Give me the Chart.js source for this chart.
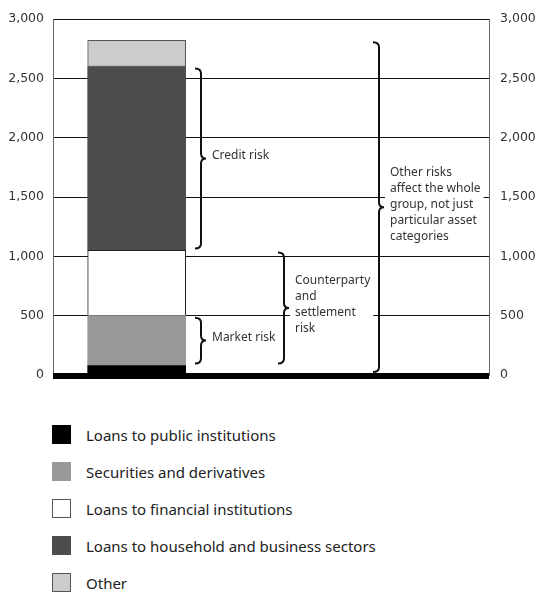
<!DOCTYPE html>
<html>
<head>
<meta charset="utf-8">
<script src="https://cdn.jsdelivr.net/npm/chart.js@4/dist/chart.umd.min.js"></script>
<style>
    html, body { margin: 0; padding: 0; background: #fff; overflow: hidden; }
    #wrap { width: 538px; }
    #chart-box { position: relative; width: 538px; height: 400px; }
    #legend { list-style: none; margin: 16px 0 0 0; padding: 0 0 0 52px; font-family: "Noto Sans", sans-serif; font-size: 15px; color: #222; }
    #legend li { height: 37px; display: flex; align-items: center; }
    #legend .swatch { width: 17px; height: 17px; border: 1px solid; margin-right: 15px; }
</style>
</head>
<body>
<div id="wrap">
    <div id="chart-box"><canvas id="exposure"></canvas></div>
    <ul id="legend"></ul>
</div>
<script>
'use strict';

// stack from the bottom up
const seriesNames = [
    'Loans to public institutions',
    'Securities and derivatives',
    'Loans to financial institutions',
    'Loans to household and business sectors',
    'Other',
];
const seriesValues = [80, 420, 550, 1550, 220];
const tickValues = [0, 500, 1000, 1500, 2000, 2500, 3000];

// which stacked series each risk brace spans
const riskNames = [
    ['Credit risk'],
    ['Market risk'],
    ['Counterparty', 'and', 'settlement', 'risk'],
    ['Other risks', 'affect the whole', 'group, not just', 'particular asset', 'categories'],
];
const riskSeries = [[3], [1], [1, 2], [0, 1, 2, 3, 4]];

const fills = ['#000000', '#999999', '#ffffff', '#4d4d4d', '#cccccc'];
const edges = ['#000000', '#999999', '#222222', '#4d4d4d', '#555555'];

(function(){

    // curly braces with their labels, placed next to the bar
    const bracePlugin = {
        id: 'braces',
        afterDatasetsDraw(chart, args, opts) {
            let ctx = chart.ctx;
            let area = chart.chartArea;
            let y = chart.scales.y;

            // thick zero line
            ctx.save();
            ctx.strokeStyle = '#000';
            ctx.lineWidth = 6;
            ctx.beginPath();
            ctx.moveTo(area.left, y.getPixelForValue(0) + 1);
            ctx.lineTo(area.right, y.getPixelForValue(0) + 1);
            ctx.stroke();

            // cumulative stack edges
            let starts = [], ends = [], sum = 0;
            for(let v of seriesValues) {
                starts.push(sum);
                sum += v;
                ends.push(sum);
            }

            riskNames.forEach(function(lines, i) {
                let idx = riskSeries[i];
                let yTop = y.getPixelForValue(ends[idx[idx.length - 1]]) + opts.inset;
                let yBot = y.getPixelForValue(starts[idx[0]]) - opts.inset - (starts[idx[0]] === 0 ? 1 : 0);
                let yMid = (yTop + yBot) / 2;
                let x0 = area.left + opts.offsets[i];
                let x1 = x0 + opts.arm;
                let r = 5;

                ctx.strokeStyle = '#111';
                ctx.lineWidth = 2;
                ctx.beginPath();
                ctx.moveTo(x0, yTop);
                ctx.quadraticCurveTo(x1, yTop, x1, yTop + r);
                ctx.lineTo(x1, yMid - r);
                ctx.quadraticCurveTo(x1, yMid, x1 + opts.tip, yMid);
                ctx.quadraticCurveTo(x1, yMid, x1, yMid + r);
                ctx.lineTo(x1, yBot - r);
                ctx.quadraticCurveTo(x1, yBot, x0, yBot);
                ctx.stroke();

                // label block, on white so gridlines stop behind it
                ctx.font = opts.font;
                let tx = x1 + opts.tip + 6;
                let h = lines.length * opts.lineHeight;
                let top = yMid - 3 - h / 2;
                let w = Math.max.apply(null, lines.map(function(l) { return ctx.measureText(l).width; }));
                let boxLeft = x1 + opts.tip + 1;
                let boxRight = Math.min(tx + w + 3, area.right - 1);
                ctx.fillStyle = '#fff';
                ctx.fillRect(boxLeft, top - 2, boxRight - boxLeft, h + 4);

                ctx.fillStyle = '#333';
                ctx.textAlign = 'left';
                ctx.textBaseline = 'middle';
                lines.forEach(function(l, k) {
                    ctx.fillText(l, tx, top + opts.lineHeight * (k + 0.5));
                });
            });
            ctx.restore();
        }
    };

    let datasets = seriesNames.map(function(name, i) {
        return {
            label: name,
            data: [{x: 0, y: seriesValues[i]}],
            backgroundColor: fills[i],
            borderColor: edges[i],
            borderWidth: (i === 2 || i === 4) ? 1 : 0,
            borderSkipped: false,
            barThickness: 98,
        };
    });

    let tickFont = {family: '"DejaVu Sans", sans-serif', size: 12.5};
    let fmt = function(v) { return Number(v).toLocaleString('en-US'); };

    let chart = new Chart(document.getElementById('exposure').getContext('2d'), {
        type: 'bar',
        data: {datasets: datasets},
        plugins: [bracePlugin],
        options: {
            responsive: true,
            maintainAspectRatio: false,
            animation: false,
            layout: {padding: {top: 19, bottom: 25, left: 0, right: 0}},
            plugins: {
                legend: {display: false},
                tooltip: {enabled: false},
                braces: {
                    offsets: [142, 142, 225, 320],
                    arm: 6,
                    tip: 5,
                    inset: 2,
                    lineHeight: 16,
                    font: '12px "Noto Sans", sans-serif',
                },
            },
            scales: {
                x: {
                    type: 'linear',
                    stacked: true,
                    offset: false,
                    min: -0.76,
                    max: 3.2,
                    display: false,
                },
                y: {
                    stacked: true,
                    min: 0,
                    max: 3000,
                    afterBuildTicks: function(s) { s.ticks = tickValues.map(function(v) { return {value: v}; }); },
                    afterFit: function(s) { s.width = 53; },
                    grid: {color: '#111', lineWidth: 1, drawTicks: false},
                    border: {display: true, color: '#666', width: 1},
                    ticks: {font: tickFont, color: '#333', padding: 9, callback: fmt},
                },
                y2: {
                    position: 'right',
                    min: 0,
                    max: 3000,
                    afterBuildTicks: function(s) { s.ticks = tickValues.map(function(v) { return {value: v}; }); },
                    afterFit: function(s) { s.width = 49; },
                    grid: {drawOnChartArea: false, drawTicks: false},
                    border: {display: true, color: '#666', width: 1},
                    ticks: {font: tickFont, color: '#333', padding: 11, callback: fmt},
                },
            },
        },
    });

    // legend list, one row per series
    let legend = document.getElementById('legend');
    chart.data.datasets.forEach(function(ds) {
        let li = document.createElement('li');
        let sw = document.createElement('span');
        sw.className = 'swatch';
        sw.style.background = ds.backgroundColor;
        sw.style.borderColor = ds.borderColor === '#222222' ? '#555' : ds.borderColor;
        li.appendChild(sw);
        li.appendChild(document.createTextNode(ds.label));
        legend.appendChild(li);
    });
})();
</script>
</body>
</html>
